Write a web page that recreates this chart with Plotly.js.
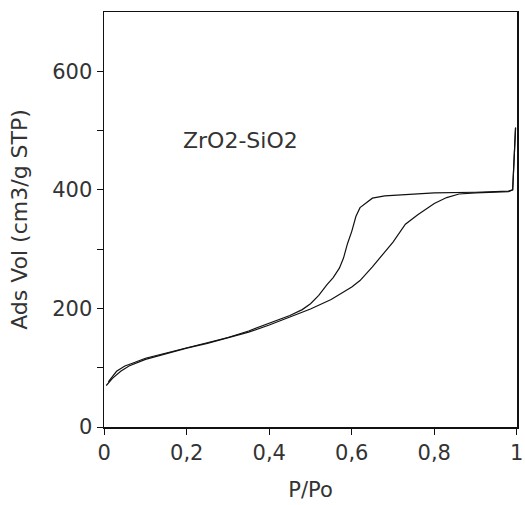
<!DOCTYPE html>
<html><head><meta charset="utf-8">
<script src="https://cdn.plot.ly/plotly-3.0.1.min.js"></script>
<style>html,body{margin:0;padding:0;background:#fff}#chart{width:525px;height:505px}</style>
</head><body><div id="chart"></div>
<script>
// Adsorption branch (lower)
const adsP = [0.005,0.02,0.04,0.06,0.1,0.15,0.2,0.25,0.3,0.35,0.4,0.45,0.5,0.55,0.6,0.62,0.65,0.7,0.73,0.76,0.8,0.83,0.86,0.9,0.95,0.98,0.99,0.993,0.997];
const adsV = [70,82,94,103,114,124,133,141,150,160,172,185,199,215,236,247,270,312,342,358,377,387,393,395,396,397,400,440,505];
// Desorption branch (upper)
const desP = [0.997,0.99,0.98,0.9,0.8,0.72,0.68,0.65,0.635,0.62,0.61,0.6,0.59,0.58,0.57,0.555,0.54,0.52,0.5,0.48,0.45,0.42,0.4,0.35,0.3,0.25,0.2,0.15,0.1,0.07,0.05,0.03,0.01];
const desV = [505,400,398,396,395,392,390,386,378,370,355,330,310,285,268,252,240,222,208,198,188,180,174,162,151,142,134,125,116,108,103,94,76];
const xTickVals = [0,0.2,0.4,0.6,0.8,1];
const xTickText = ["0","0,2","0,4","0,6","0,8","1"];
const yTickVals = [0,100,200,300,400,500,600];
const yTickText = ["0","","200","","400","","600"];
const label = "ZrO2-SiO2";

const font = {family:"DejaVu Sans", size:21, color:"#333"};
const traces = [
  {x:adsP, y:adsV, mode:"lines", line:{color:"#111", width:1.2}, showlegend:false},
  {x:desP, y:desV, mode:"lines", line:{color:"#111", width:1.2}, showlegend:false}
];
const layout = {
  width:525, height:505,
  margin:{l:104, r:8, t:12, b:78},
  paper_bgcolor:"#fff", plot_bgcolor:"#fff",
  font:font,
  xaxis:{range:[-0.0005,1.0005], tickvals:xTickVals, ticktext:xTickText, ticks:"outside", ticklen:6, tickcolor:"#111",
    showline:true, linecolor:"#111", linewidth:1.5, mirror:true, showgrid:false, zeroline:false,
    ticklabeloverflow:"allow", automargin:false, tickfont:font, title:{text:"P/Po", font:font, standoff:18}},
  yaxis:{range:[0,700], tickvals:yTickVals, ticktext:yTickText, ticks:"outside", ticklen:6, tickcolor:"#111",
    showline:true, linecolor:"#111", linewidth:1.5, mirror:true, showgrid:false, zeroline:false,
    automargin:false, tickfont:font, title:{text:"Ads Vol (cm3/g STP)", font:{family:"DejaVu Sans", size:22, color:"#333"}, standoff:18}},
  annotations:[{x:0.33, y:484, xref:"x", yref:"y", text:label, showarrow:false, xanchor:"center",
    font:{family:"DejaVu Sans", size:22, color:"#333"}}]
};
Plotly.newPlot("chart", traces, layout, {displayModeBar:false, staticPlot:true});
</script></body></html>
